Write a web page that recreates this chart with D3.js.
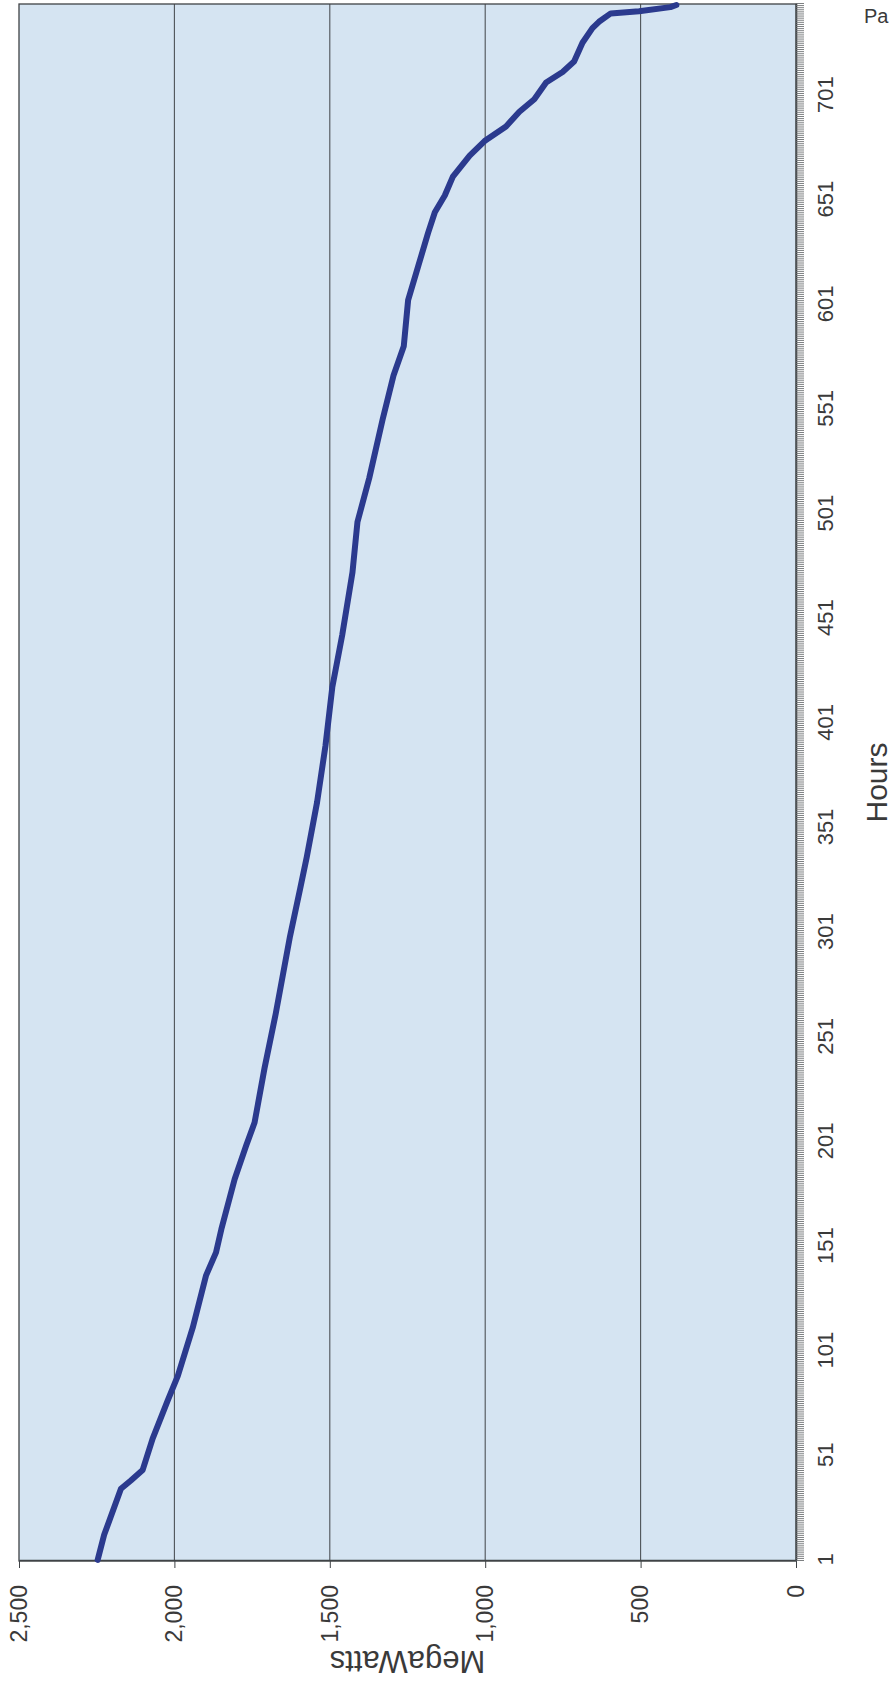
<!DOCTYPE html>
<html><head><meta charset="utf-8">
<script src="https://cdn.jsdelivr.net/npm/d3@7/dist/d3.min.js"></script>
<style>
html,body{margin:0;padding:0;background:#ffffff;}
svg{display:block;}
text{font-family:"Liberation Sans",Arial,Helvetica,sans-serif;fill:#3a3a3a;}
</style>
</head><body>
<svg id="chart" width="894" height="1682"></svg>
<script>
// Load duration curve (hours sorted by load)
const hours = [1, 13, 35, 39, 44, 59, 77, 89, 112, 137, 148, 159, 183, 199, 210, 236, 262, 299, 322, 337, 363, 390, 418, 443, 473, 497, 518, 546, 567, 581, 603, 619, 635, 645, 653, 662, 672, 679, 686, 693, 699, 707, 712, 717, 726, 733, 736, 740, 741, 743, 744];
const megawatts = [2247, 2226, 2172, 2140, 2102, 2070, 2022, 1989, 1941, 1898, 1866, 1849, 1806, 1769, 1742, 1710, 1674, 1628, 1595, 1574, 1541, 1514, 1492, 1460, 1427, 1411, 1373, 1330, 1295, 1262, 1248, 1216, 1184, 1162, 1130, 1104, 1050, 1002, 933, 890, 842, 804, 751, 714, 687, 655, 634, 596, 505, 404, 385];
const hourTickLabels = [1, 51, 101, 151, 201, 251, 301, 351, 401, 451, 501, 551, 601, 651, 701];
const mwTicks = [0, 500, 1000, 1500, 2000, 2500];
const mwGrid = [500, 1000, 1500, 2000];
const totalHours = 744;
const xTitle = "Hours";
const yTitle = "MegaWatts";
const pageHeader = "Pa";

const svg = d3.select('#chart');
const plotLeft = 19, plotRight = 796, plotTop = 4, plotBottom = 1561;
const H = plotBottom - plotTop;   // length of the hours axis (runs upward on the page)
const W = plotRight - plotLeft;   // length of the MW axis (runs leftward on the page)

// the whole chart is printed rotated 90° counter-clockwise
const g = svg.append('g')
  .attr('transform', `translate(${plotLeft},${plotBottom}) rotate(-90)`);

const x = d3.scaleLinear().domain([0.5, totalHours + 0.5]).range([0, H]);
const y = d3.scaleLinear().domain([0, 2500]).range([W, 0]);

// plot background
g.append('rect').attr('x', 0).attr('y', 0).attr('width', H).attr('height', W)
  .attr('fill', '#d5e4f2');

// gridlines
g.append('g').selectAll('line').data(mwGrid).join('line')
  .attr('x1', 0).attr('x2', H)
  .attr('y1', d => y(d)).attr('y2', d => y(d))
  .attr('stroke', '#4d5257').attr('stroke-width', 1.1);

// plot border
g.append('rect').attr('x', 0).attr('y', 0).attr('width', H).attr('height', W)
  .attr('fill', 'none').attr('stroke', '#3f4346').attr('stroke-width', 1.3);

// category axis: dense tick marks at every category boundary
const boundaries = d3.range(0, totalHours + 1).map(i => i + 0.5);
const xTicks = g.append('g').attr('transform', `translate(0,${W})`)
  .call(d3.axisBottom(x).tickValues(boundaries).tickSize(8).tickSizeOuter(0).tickFormat(''));
xTicks.selectAll('.tick line').attr('stroke', '#6d7073').attr('stroke-width', 0.9);
xTicks.select('.domain').attr('stroke', '#3a3d40').attr('stroke-width', 1.6);

// category labels
const xLabels = g.append('g').attr('transform', `translate(0,${W})`)
  .call(d3.axisBottom(x).tickValues(hourTickLabels).tickSize(0).tickPadding(21));
xLabels.select('.domain').remove();
xLabels.selectAll('text').attr('font-size', 22).style('fill', '#3a3a3a')
  .attr('font-family', '"Liberation Sans",Arial,sans-serif');

// value axis
const yAxis = g.append('g')
  .call(d3.axisLeft(y).tickValues(mwTicks).tickSize(7).tickSizeOuter(0).tickPadding(17).tickFormat(d3.format(',')));
yAxis.select('.domain').attr('stroke', '#3f4346').attr('stroke-width', 1.3);
yAxis.selectAll('.tick line').attr('stroke', '#3f4346');
yAxis.selectAll('text').attr('font-size', 23).style('fill', '#3a3a3a')
  .attr('font-family', '"Liberation Sans",Arial,sans-serif');

// data line
const line = d3.line()
  .x((d, i) => x(hours[i]))
  .y((d, i) => y(megawatts[i]));
g.append('path').datum(megawatts)
  .attr('d', line)
  .attr('fill', 'none')
  .attr('stroke', '#2b3a8e')
  .attr('stroke-width', 6)
  .attr('stroke-linejoin', 'round')
  .attr('stroke-linecap', 'round');

// axis titles
g.append('text')
  .attr('x', H / 2).attr('y', W + 80)
  .attr('text-anchor', 'middle').attr('dominant-baseline', 'central')
  .attr('font-size', 30)
  .text(xTitle);

g.append('text')
  .attr('transform', `translate(-100,${W / 2}) rotate(-90)`)
  .attr('text-anchor', 'middle').attr('dominant-baseline', 'central')
  .attr('font-size', 31)
  .text(yTitle);

// page header fragment at the top-right corner
svg.append('text').attr('x', 864).attr('y', 23)
  .attr('font-size', 20).text(pageHeader);
</script>
</body></html>
